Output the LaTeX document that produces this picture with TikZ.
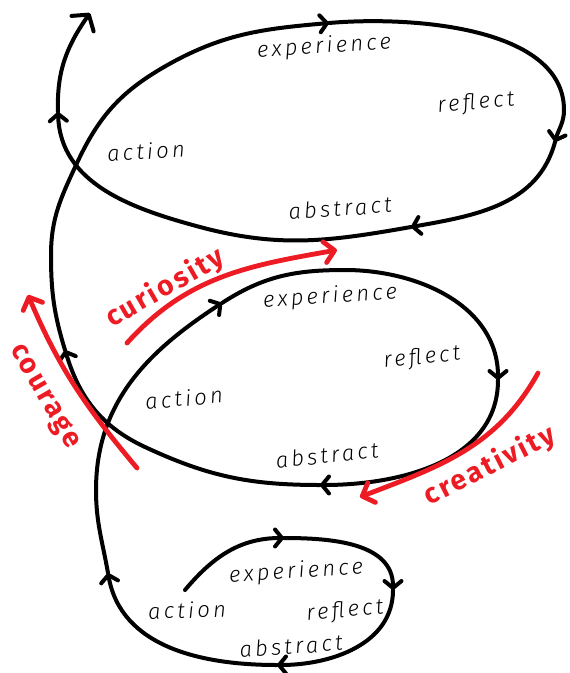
\documentclass[tikz,border=0pt]{standalone}
\usepackage{fontspec}
\usepackage{xcolor}
\usepackage{tikz}
\usetikzlibrary{arrows.meta}
\newfontfamily\handfont{Fira Sans Light Italic}[LetterSpace=15]
\newfontfamily\redhand{Fira Sans Bold}[LetterSpace=9]
\definecolor{attr}{RGB}{237,28,36}

\begin{document}
\begin{tikzpicture}[x=1pt,y=1pt,line cap=round,
    loop/.style={line width=4pt},
    flow/.style={loop,-{Straight Barb[length=7pt,width=17pt,round]}},
    tip/.style={loop,-{Straight Barb[length=11pt,width=27pt,round]}},
    hw/.style={font=\handfont\fontsize{22}{22}\selectfont,inner sep=0pt},
    trait/.style={draw=attr,line width=4.8pt,-{Straight Barb[length=10pt,width=21pt,round]}},
    traitlabel/.style={text=attr,font=\redhand\fontsize{28}{28}\selectfont,inner sep=0pt},
    ]
\useasboundingbox (0,0) rectangle (570,-673);
\coordinate (s0) at (185,-590);
\coordinate (s1) at (284,-538);
\coordinate (s2) at (393,-590);
\coordinate (s3) at (277,-665);
\coordinate (s4) at (108,-573);
\coordinate (m1) at (96,-490);
\coordinate (s5) at (222,-303);
\coordinate (m3) at (345,-270);
\coordinate (s6) at (498,-380);
\coordinate (s7) at (320,-485);
\coordinate (m4) at (145,-447);
\coordinate (s8) at (65,-350);
\coordinate (m6) at (51,-255);
\coordinate (m7) at (77,-163);
\coordinate (m8) at (164,-67);
\coordinate (s9) at (329,-23);
\coordinate (m9) at (564,-110);
\coordinate (s10) at (555,-142);
\coordinate (s11) at (411,-227);
\coordinate (m10) at (200,-227);
\coordinate (s12) at (58,-112);
\coordinate (s13) at (90,-13);

\draw[flow] (s0) to[out=50,in=180] (s1);
\draw[flow] (s1) to[out=0,in=90] (s2);
\draw[flow] (s2) to[out=-90,in=0] (s3);
\draw[flow] (s3) to[out=180,in=-80] (s4);
\draw[loop] (s4) to[out=100,in=-90] (m1);
\draw[flow] (m1) to[out=90,in=213] (s5);
\draw[loop] (s5) to[out=33,in=180] (m3);
\draw[flow] (m3) to[out=0,in=90] (s6);
\draw[flow] (s6) to[out=-90,in=0] (s7);
\draw[loop] (s7) to[out=180,in=-25] (m4);
\draw[flow] (m4) to[out=155,in=-73] (s8);
\draw[loop] (s8) to[out=107,in=-90] (m6);
\draw[loop] (m6) to[out=90,in=-115] (m7);
\draw[loop] (m7) to[out=65,in=-150] (m8);
\draw[flow] (m8) to[out=30,in=185] (s9);
\draw[loop] (s9) to[out=5,in=90,looseness=0.85] (m9);
\draw[flow] (m9) to[out=-90,in=75] (s10);
\draw[flow] (s10) to[out=-105,in=10] (s11);
\draw[loop] (s11) to[out=190,in=-15] (m10);
\draw[flow] (m10) to[out=165,in=-88] (s12);
\draw[tip] (s12) to[out=92,in=-125] (s13);

\node[hw,rotate=4] (exp-top) at (324,-47) {experience};
\node[hw,rotate=5] (refl-top) at (476,-103) {reflect};
\node[hw,rotate=3] (act-top) at (146,-151) {action};
\node[hw,rotate=4] (abs-top) at (340,-208) {abstract};
\node[hw,rotate=4] (exp-mid) at (330,-297) {experience};
\node[hw,rotate=6] (refl-mid) at (422,-358) {reflect};
\node[hw,rotate=5] (act-mid) at (184,-398) {action};
\node[hw,rotate=6] (abs-mid) at (327,-455) {abstract};
\node[hw,rotate=4] (exp-low) at (296,-572) {experience};
\node[hw,rotate=2] (act-low) at (187,-610) {action};
\node[hw,rotate=5] (refl-low) at (345,-611) {reflect};
\node[hw,rotate=4] (abs-low) at (291,-646) {abstract};

\coordinate (cur-a) at (127,-343);
\coordinate (cur-b) at (337,-250);
\coordinate (cou-a) at (137,-468);
\coordinate (cou-b) at (28,-295);
\coordinate (cre-a) at (538,-373);
\coordinate (cre-b) at (360,-497);
\draw[trait] (cur-a) to[out=48,in=190] (cur-b);
\draw[trait] (cou-a) to[out=130,in=-67] (cou-b);
\draw[trait] (cre-a) to[out=-119,in=21] (cre-b);
\node[traitlabel,rotate=30] (curiosity) at (165,-288) {curiosity};
\node[traitlabel,rotate=-60] (courage) at (44,-397) {courage};
\node[traitlabel,rotate=27] (creativity) at (490,-466) {creativity};
\end{tikzpicture}
\end{document}
